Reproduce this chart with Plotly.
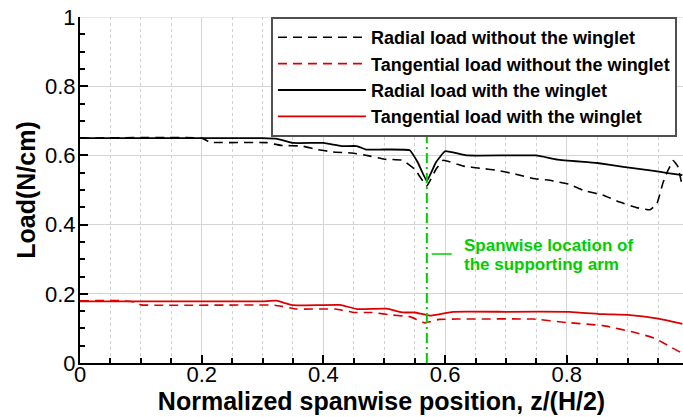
import plotly.graph_objects as go

# Radial load with the winglet (solid black)
rw_x = [0, 0.1, 0.2, 0.3, 0.324, 0.35, 0.40, 0.43, 0.455, 0.47, 0.50, 0.542, 0.555, 0.57, 0.585, 0.60, 0.636, 0.70, 0.75, 0.785, 0.85, 0.893, 0.937, 0.966, 0.99]
rw_y = [0.65, 0.65, 0.65, 0.65, 0.648, 0.636, 0.636, 0.627, 0.627, 0.617, 0.617, 0.615, 0.58, 0.526, 0.58, 0.612, 0.600, 0.600, 0.600, 0.588, 0.578, 0.567, 0.557, 0.549, 0.543]

# Radial load without the winglet (dashed black)
rn_x = [0, 0.2, 0.214, 0.307, 0.33, 0.365, 0.39, 0.416, 0.447, 0.477, 0.50, 0.53, 0.55, 0.57, 0.585, 0.597, 0.63, 0.657, 0.685, 0.718, 0.745, 0.772, 0.805, 0.827, 0.86, 0.887, 0.915, 0.937, 0.948, 0.958, 0.965, 0.975, 0.982, 0.99]
rn_y = [0.65, 0.65, 0.638, 0.637, 0.629, 0.627, 0.617, 0.61, 0.607, 0.598, 0.589, 0.586, 0.56, 0.512, 0.56, 0.586, 0.569, 0.563, 0.557, 0.545, 0.533, 0.528, 0.516, 0.499, 0.485, 0.465, 0.449, 0.443, 0.46, 0.52, 0.552, 0.585, 0.57, 0.51]

# Tangential load with the winglet (solid red)
tw_x = [0, 0.1, 0.2, 0.3, 0.323, 0.35, 0.427, 0.455, 0.504, 0.531, 0.55, 0.575, 0.613, 0.70, 0.805, 0.86, 0.9, 0.948, 0.99]
tw_y = [0.178, 0.178, 0.178, 0.178, 0.18, 0.167, 0.168, 0.156, 0.157, 0.146, 0.146, 0.137, 0.148, 0.148, 0.148, 0.141, 0.139, 0.129, 0.113]

# Tangential load without the winglet (dashed red)
tn_x = [0, 0.07, 0.09, 0.10, 0.32, 0.356, 0.42, 0.45, 0.48, 0.51, 0.542, 0.567, 0.59, 0.62, 0.745, 0.80, 0.86, 0.915, 0.945, 0.97, 0.99]
tn_y = [0.18, 0.18, 0.176, 0.168, 0.167, 0.156, 0.156, 0.146, 0.146, 0.139, 0.134, 0.116, 0.126, 0.127, 0.127, 0.117, 0.108, 0.087, 0.071, 0.047, 0.028]

arm_x = 0.57
names = ["Radial load without the winglet", "Tangential load without the winglet",
         "Radial load with the winglet", "Tangential load with the winglet"]

FONT = "Liberation Sans, Arial, sans-serif"
GREEN = "rgb(0,205,0)"
RED = "rgb(220,0,0)"

fig = go.Figure()
fig.add_trace(go.Scatter(x=rn_x, y=rn_y, mode="lines", name="<b>%s</b>" % names[0],
                         line=dict(color="black", width=1.6, dash="9px,6px"), line_shape="spline",
                         line_smoothing=0.3))
fig.add_trace(go.Scatter(x=tn_x, y=tn_y, mode="lines", name="<b>%s</b>" % names[1],
                         line=dict(color=RED, width=1.6, dash="9px,6px"), line_shape="spline",
                         line_smoothing=0.3))
fig.add_trace(go.Scatter(x=rw_x, y=rw_y, mode="lines", name="<b>%s</b>" % names[2],
                         line=dict(color="black", width=1.8), line_shape="spline", line_smoothing=0.3))
fig.add_trace(go.Scatter(x=tw_x, y=tw_y, mode="lines", name="<b>%s</b>" % names[3],
                         line=dict(color=RED, width=1.8), line_shape="spline", line_smoothing=0.3))

# supporting arm location
fig.add_trace(go.Scatter(x=[arm_x, arm_x], y=[0, 1], mode="lines", showlegend=False,
                         line=dict(color=GREEN, width=2, dash="10px,4px,2px,4px")))

fig.add_shape(type="line", xref="x", yref="y", x0=0.578, x1=0.611, y0=0.315, y1=0.315,
              line=dict(color=GREEN, width=1.5))
fig.add_annotation(x=0.628, y=0.341, xref="x", yref="y", text="<b>Spanwise location of</b>",
                   showarrow=False, xanchor="left", yanchor="middle",
                   font=dict(family=FONT, size=17, color=GREEN))
fig.add_annotation(x=0.628, y=0.284, xref="x", yref="y", text="<b>the supporting arm</b>",
                   showarrow=False, xanchor="left", yanchor="middle",
                   font=dict(family=FONT, size=17, color=GREEN))
fig.add_shape(type="line", xref="paper", yref="y", x0=0, x1=1, y0=1, y1=1,
              line=dict(color="#d4d4d4", width=1), layer="below")

fig.update_layout(
    width=683, height=417,
    margin=dict(l=80, r=0, t=17, b=54),
    plot_bgcolor="white", paper_bgcolor="white",
    font=dict(family=FONT, color="black"),
    showlegend=True,
    legend=dict(x=0.3167, y=1, xanchor="left", yanchor="top",
                bgcolor="white", bordercolor="#505050", borderwidth=2,
                font=dict(family=FONT, size=18, color="black"),
                itemwidth=88, tracegroupgap=0),
    xaxis=dict(range=[0, 0.991], dtick=0.2, tick0=0, showline=True, linecolor="black",
               linewidth=2, ticks="inside", ticklen=8, tickwidth=2, tickcolor="black",
               showgrid=True, gridcolor="#d4d4d4", gridwidth=1, zeroline=False,
               tickfont=dict(family=FONT, size=22), ticklabelstandoff=-9,
               minor=dict(dtick=0.05, ticks="inside", ticklen=5, tickwidth=1.5, tickcolor="black",
                          showgrid=True, gridcolor="#d0d0d0", griddash="dot", gridwidth=1),
               title=dict(text="<b>Normalized spanwise position, z/(H/2)</b>",
                          font=dict(family=FONT, size=25), standoff=0)),
    yaxis=dict(range=[0, 1], dtick=0.2, tick0=0, showline=True, linecolor="black",
               linewidth=2, ticks="inside", ticklen=8, tickwidth=2, tickcolor="black",
               showgrid=True, gridcolor="#d4d4d4", gridwidth=1, zeroline=False,
               tickfont=dict(family=FONT, size=22), ticklabelstandoff=-2,
               minor=dict(dtick=0.05, ticks="inside", ticklen=5, tickwidth=1.5, tickcolor="black",
                          showgrid=False),
               title=dict(text="<b>Load(N/cm)</b>", font=dict(family=FONT, size=25), standoff=2)),
)

fig.write_html("out.html")
